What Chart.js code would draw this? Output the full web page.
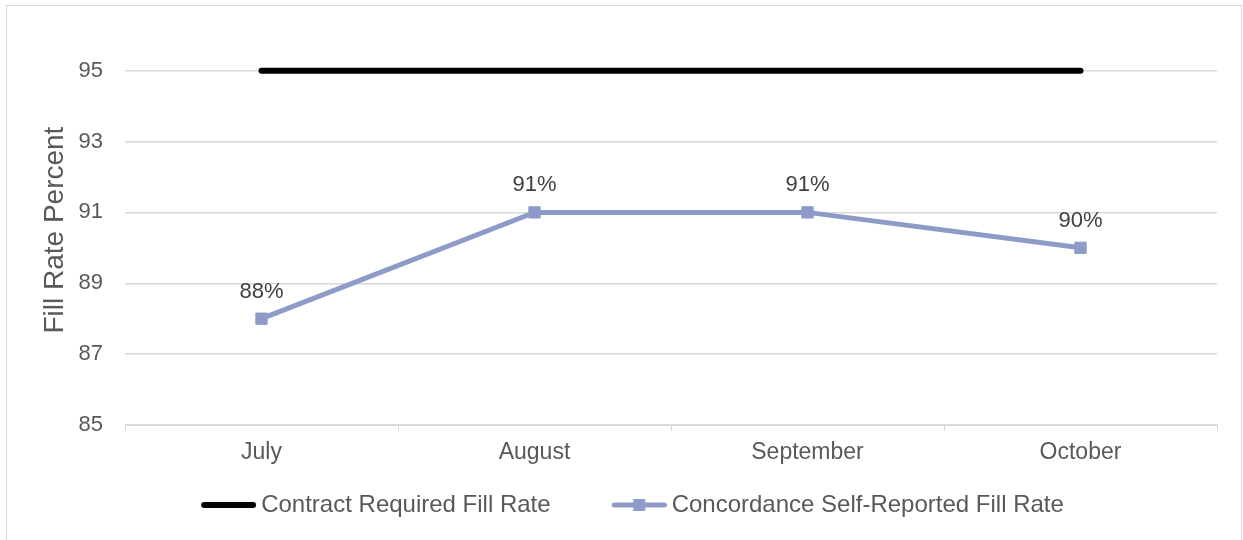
<!DOCTYPE HTML>
<html>
<head>
  <script src="https://cdn.jsdelivr.net/npm/chart.js"></script>
  <style>
    body { margin: 0; background: #fff; }
    #wrap { position: relative; width: 1243px; height: 540px; overflow: hidden; }
    #frame { position: absolute; left: 6px; top: 5px; width: 1236px; height: 560px; border: 1px solid #d9d9d9; box-sizing: border-box; pointer-events: none; }
    #fillChart { position: absolute; left: 0; top: 0; }
  </style>
</head>
<body>
  <div id="wrap">
    <canvas id="fillChart" width="1243" height="540"></canvas>
    <div id="frame"></div>
  </div>

  <script>
    // Chart data
    var months = ['July', 'August', 'September', 'October'];
    var contractRate = [95, 95, 95, 95];
    var selfReported = [88, 91, 91, 90];
    var yTicks = [85, 87, 89, 91, 93, 95];

    var blue = '#8e9bc9';
    var textGrey = '#595959';
    var gridGrey = '#d9d9d9';
    var fontFamily = '"Liberation Sans", Arial, sans-serif';

    // legend swatches: 55px mark drawn at the right end of a wider transparent image
    function makeSwatch(color, width, marker) {
      var c = document.createElement('canvas');
      c.width = 97;
      c.height = 14;
      var ctx = c.getContext('2d');
      var x0 = 42;
      ctx.strokeStyle = color;
      ctx.lineWidth = width;
      ctx.lineCap = 'round';
      ctx.beginPath();
      ctx.moveTo(x0 + width / 2, 7);
      ctx.lineTo(x0 + 55 - width / 2, 7);
      ctx.stroke();
      if (marker) {
        ctx.fillStyle = color;
        ctx.fillRect(x0 + 21.5, 1, 12, 12);
      }
      return c;
    }
    var blackSwatch = makeSwatch('#000000', 6, false);
    var blueSwatch = makeSwatch(blue, 5, true);

    // percent labels above the self-reported points
    var pointLabels = {
      id: 'pointLabels',
      afterDatasetsDraw: function(chart) {
        var ctx = chart.ctx;
        var meta = chart.getDatasetMeta(1);
        ctx.save();
        ctx.font = '22px ' + fontFamily;
        ctx.fillStyle = '#404040';
        ctx.textAlign = 'center';
        ctx.textBaseline = 'middle';
        meta.data.forEach(function(pt, i) {
          ctx.fillText(selfReported[i] + '%', pt.x, pt.y - 27);
        });
        ctx.restore();
      }
    };

    var myContext = document.getElementById('fillChart').getContext('2d');
    var myChart = new Chart(myContext, {
      type: 'line',
      data: {
        labels: months,
        datasets: [{
          label: 'Contract Required Fill Rate',
          data: contractRate,
          borderColor: '#000000',
          borderWidth: 6,
          borderCapStyle: 'round',
          pointRadius: 0,
          pointHoverRadius: 0
        }, {
          label: 'Concordance Self-Reported Fill Rate',
          data: selfReported,
          borderColor: blue,
          backgroundColor: blue,
          borderWidth: 5,
          pointStyle: 'rect',
          pointRadius: 8,
          pointBorderWidth: 1,
          pointBorderColor: blue,
          pointBackgroundColor: blue
        }]
      },
      options: {
        responsive: false,
        animation: false,
        layout: {
          padding: { left: 13, right: 26, top: 0, bottom: 13 }
        },
        plugins: {
          legend: {
            position: 'bottom',
            labels: {
              usePointStyle: true,
              pointStyleWidth: 83,
              padding: 26,
              color: textGrey,
              font: { family: fontFamily, size: 24 },
              generateLabels: function(chart) {
                return chart.data.datasets.map(function(ds, i) {
                  return {
                    text: ds.label,
                    pointStyle: i === 0 ? blackSwatch : blueSwatch,
                    fontColor: textGrey,
                    lineWidth: 0,
                    datasetIndex: i
                  };
                });
              }
            }
          },
          tooltip: { enabled: false }
        },
        scales: {
          x: {
            offset: true,
            grid: {
              offset: true,
              drawOnChartArea: false,
              drawTicks: true,
              tickLength: 6,
              color: gridGrey
            },
            border: { display: true, color: gridGrey },
            ticks: {
              color: textGrey,
              padding: 8,
              font: { family: fontFamily, size: 23 }
            },
            afterFit: function(scale) { scale.height = 42; }
          },
          y: {
            min: 85,
            max: 96,
            afterBuildTicks: function(scale) {
              scale.ticks = yTicks.map(function(v) { return { value: v }; });
            },
            grid: { color: gridGrey, drawTicks: false, lineWidth: 1.5 },
            border: { display: false },
            ticks: {
              color: textGrey,
              padding: 22,
              font: { family: fontFamily, size: 22 }
            },
            title: {
              display: true,
              text: 'Fill Rate Percent',
              color: textGrey,
              padding: { top: 25, bottom: 4 },
              font: { family: fontFamily, size: 28 }
            },
            afterFit: function(scale) { scale.width = 112; }
          }
        }
      },
      plugins: [pointLabels]
    });
  </script>
</body>
</html>
